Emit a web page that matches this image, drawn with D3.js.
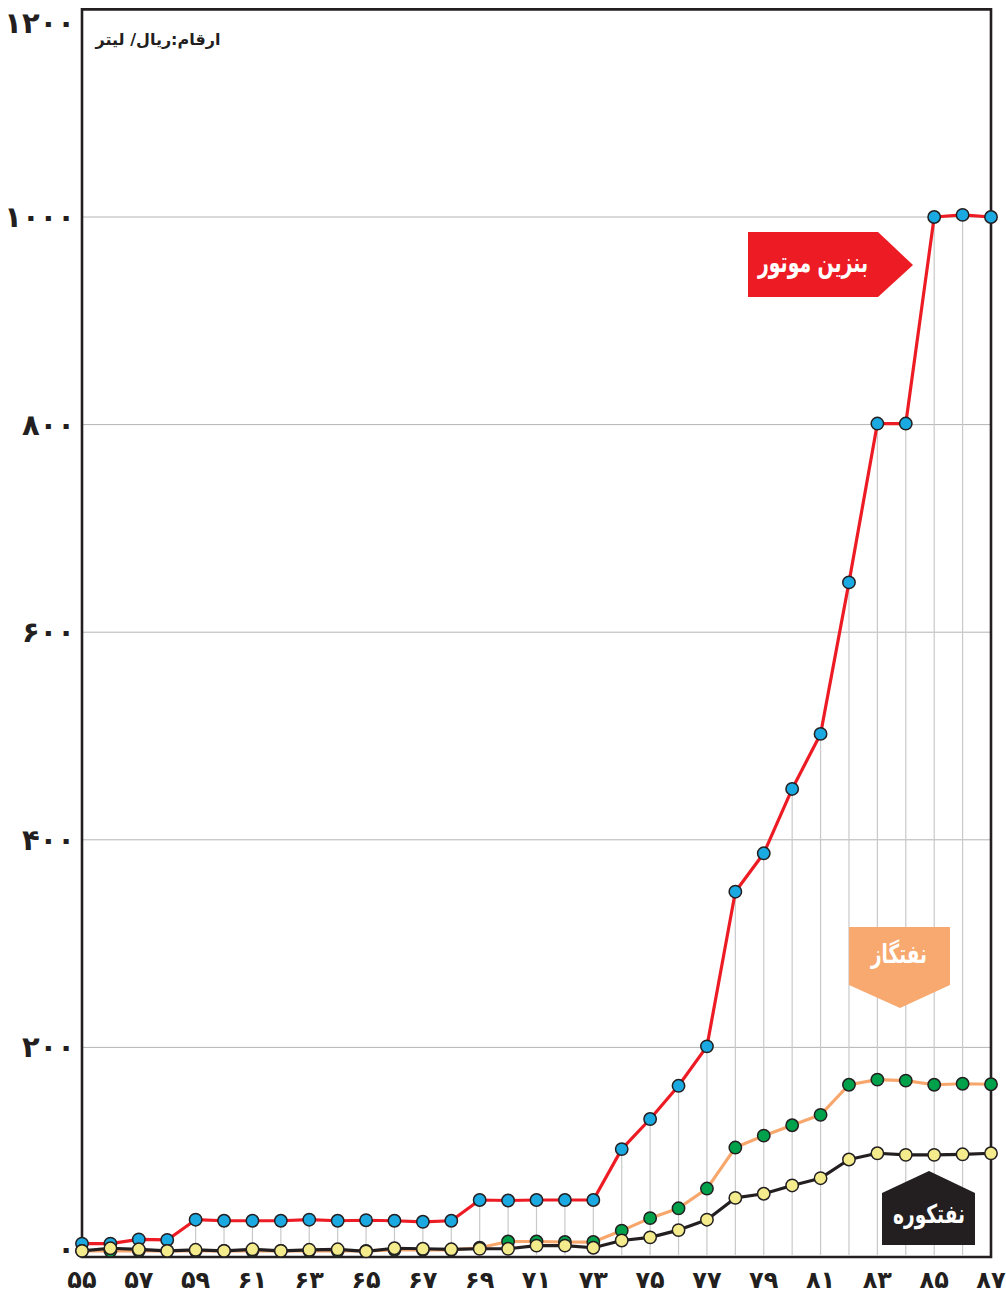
<!DOCTYPE html>
<html><head><meta charset="utf-8">
<script src="https://cdn.jsdelivr.net/npm/d3@7"></script>
<style>
html,body{margin:0;padding:0;background:#fff;}
svg{display:block;}
text{font-family:"DejaVu Sans",sans-serif;}
</style></head>
<body>
<svg id="chart" width="1006" height="1295"></svg>
<script>
// ---- data ----
const years = [55,56,57,58,59,60,61,62,63,64,65,66,67,68,69,70,71,72,73,74,75,76,77,78,79,80,81,82,83,84,85,86,87];
const gasoline = [11,11,15,14.5,34,33,33,33,34,33,33.5,33,32,33,53,52.5,53,53,53,102,131,163,201,350,387,449,502,648,801,801,1000,1002,1000];
const gasOil = [4,4,4,4,4,4,4,4,4,4,4,5,5,5,7,13,13,12.5,12.5,23.5,35.5,45,64,103.5,115,125,135,164,169,168,164,165,164.5];
const fuelOil = [4,6.5,5.5,4,5,4,5.5,4,5,5.5,3.5,6.5,6,5.5,6,6,9,9,7,14,17,24,34,55,59,67,74,92,98,96.5,96.5,97,98];
const yTicks = [0,200,400,600,800,1000,1200];
const yTickLabels = ['۰','۲۰۰','۴۰۰','۶۰۰','۸۰۰','۱۰۰۰','۱۲۰۰'];
const xTicks = [55,57,59,61,63,65,67,69,71,73,75,77,79,81,83,85,87];
const xTickLabels = ['۵۵','۵۷','۵۹','۶۱','۶۳','۶۵','۶۷','۶۹','۷۱','۷۳','۷۵','۷۷','۷۹','۸۱','۸۳','۸۵','۸۷'];
const unitLabel = 'ارقام:ریال/ لیتر';
const seriesNames = ['بنزین موتور','نفتگاز','نفتکوره'];

// ---- layout ----
const svg = d3.select('#chart');
const x = d3.scaleLinear().domain([55,87]).range([82,991]);
const y = d3.scaleLinear().domain([0,1200]).range([1255,9.4]);
const dark = '#231f20';

// horizontal gridlines
svg.append('g').selectAll('line').data(yTicks.filter(v=>v>0 && v<1200)).join('line')
  .attr('x1',x(55)).attr('x2',x(87)).attr('y1',d=>y(d)).attr('y2',d=>y(d))
  .attr('stroke','#b4b4b4').attr('stroke-width',1);

// drop lines
svg.append('g').selectAll('line').data(years.map((yr,i)=>[yr,gasoline[i]])).join('line')
  .attr('x1',d=>x(d[0])).attr('x2',d=>x(d[0])).attr('y1',d=>y(d[1])).attr('y2',y(0))
  .attr('stroke','#c9c9c9').attr('stroke-width',1.2);

// frame
svg.append('path')
  .attr('d',`M${x(55)},${y(1200)}H${x(87)}V${y(0)+2}H${x(55)}Z`)
  .attr('fill','none').attr('stroke',dark).attr('stroke-width',2.6);

// y labels
svg.append('g').selectAll('text').data(yTicks).join('text')
  .attr('x',75).attr('y',(d)=> d===1200 ? y(d)+14 : (d===0 ? y(d)-6 : y(d)))
  .attr('text-anchor','end').attr('dominant-baseline','central')
  .attr('font-size',29).attr('font-weight','bold').attr('fill',dark)
  .text((d,i)=>yTickLabels[i]);

// x labels
svg.append('g').selectAll('text').data(xTicks).join('text')
  .attr('x',d=>Math.min(x(d),992)).attr('y',1288)
  .attr('text-anchor','middle')
  .attr('font-size',24).attr('font-weight','bold').attr('fill',dark)
  .text((d,i)=>xTickLabels[i]);

// unit label
svg.append('text').attr('x',158).attr('y',39).attr('text-anchor','middle')
  .attr('dominant-baseline','central').attr('direction','rtl')
  .attr('font-size',16).attr('font-weight','bold').attr('fill',dark).text(unitLabel);

// series
const line = d3.line().x((d,i)=>x(years[i])).y(d=>y(d));
const series = [
  {vals:gasoline, stroke:'#ed1c24', fill:'#1ba9e1'},
  {vals:gasOil, stroke:'#f7a66c', fill:'#00a14b'},
  {vals:fuelOil, stroke:dark, fill:'#f4ec8c'}
];
series.forEach(s=>{
  const g = svg.append('g');
  g.append('path').attr('d',line(s.vals)).attr('fill','none')
    .attr('stroke',s.stroke).attr('stroke-width',3.2).attr('stroke-linejoin','round');
  g.selectAll('circle').data(s.vals).join('circle')
    .attr('cx',(d,i)=>x(years[i])).attr('cy',d=>y(d)).attr('r',6.2)
    .attr('fill',s.fill).attr('stroke',dark).attr('stroke-width',1.5);
});

// flags
function flag(points, color, label, tx, ty, size, len){
  svg.append('polygon').attr('points',points.map(p=>p.join(',')).join(' ')).attr('fill',color);
  svg.append('text').attr('x',tx).attr('y',ty).attr('text-anchor','middle')
    .attr('dominant-baseline','central').attr('direction','rtl')
    .attr('textLength',len).attr('lengthAdjust','spacingAndGlyphs')
    .attr('font-size',size).attr('font-weight','bold').attr('fill','#fff').text(label);
}
flag([[748,232],[878,232],[913,265],[878,297],[748,297]],'#ed1c24',seriesNames[0],813,262,28,110);
flag([[849,927],[950,927],[950,985],[900,1008],[849,985]],'#f8a970',seriesNames[1],899,954,26,56);
flag([[929,1171],[975,1193],[975,1245],[882,1245],[882,1193]],dark,seriesNames[2],929,1214,26,72);
</script>
</body></html>
